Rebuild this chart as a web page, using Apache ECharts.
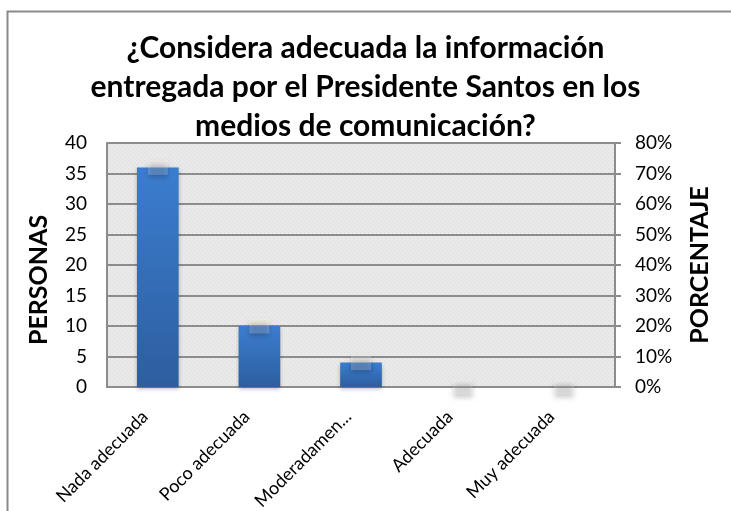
<!DOCTYPE html>
<html>
<head>
<meta charset="utf-8">
<script src="https://cdn.jsdelivr.net/npm/echarts@6/dist/echarts.min.js"></script>
<style>
  html, body { margin: 0; padding: 0; background: #fff; }
  #chart { width: 731px; height: 511px; }
</style>
</head>
<body>
<div id="chart"></div>
<script>
// categorias de respuesta
var categorias = ['Nada adecuada', 'Poco adecuada', 'Moderadamente adecuada', 'Adecuada', 'Muy adecuada'];
// numero de personas
var personas = [36, 10, 4, 0, 0];
// porcentaje de respuestas
var porcentaje = [72, 20, 8, 0, 0];

// fondo punteado del area del grafico
var trama = document.createElement('canvas');
trama.width = 4;
trama.height = 4;
var tctx = trama.getContext('2d');
tctx.fillStyle = '#e9e9e9';
tctx.fillRect(0, 0, 4, 4);
tctx.fillStyle = '#dcdcdc';
tctx.fillRect(0, 0, 1, 1);
tctx.fillRect(2, 2, 1, 1);

var myChart = echarts.init(document.getElementById('chart'));

myChart.setOption({
    animation: false,
    textStyle: { fontFamily: 'Lato, "Open Sans", sans-serif' },
    title: {
        text: '¿Considera adecuada la información\nentregada por el Presidente Santos en los\nmedios de comunicación?',
        left: 'center',
        top: 24,
        textStyle: {
            fontSize: 30,
            fontWeight: 'bold',
            lineHeight: 39,
            color: '#000'
        }
    },
    graphic: [{
        type: 'polyline',
        shape: { points: [[7.5, 511], [7.5, 11.5], [731, 11.5]] },
        style: { stroke: '#8a8a8a', lineWidth: 2, fill: null }
    }],
    grid: {
        left: 107,
        right: 116,
        top: 143,
        bottom: 124,
        outerBoundsMode: 'none',
        containLabel: false,
        show: true,
        borderWidth: 0,
        backgroundColor: { image: trama, repeat: 'repeat' }
    },
    xAxis: {
        type: 'category',
        data: categorias,
        axisTick: { show: false },
        axisLine: { lineStyle: { color: '#8c8c8c', width: 2 } },
        axisLabel: {
            rotate: 45,
            fontSize: 18,
            color: '#000',
            margin: 14,
            padding: [0, 18, 0, 0],
            width: 130,
            overflow: 'truncate',
            ellipsis: '...'
        }
    },
    yAxis: [{
        type: 'value',
        min: 0,
        max: 40,
        interval: 5,
        name: 'PERSONAS',
        nameLocation: 'middle',
        nameGap: 56,
        nameTextStyle: { fontSize: 25, fontWeight: 'bold', color: '#000', padding: [0, 30, 0, 0] },
        axisLine: { show: true, lineStyle: { color: '#8c8c8c', width: 2 } },
        axisTick: { show: false },
        axisLabel: { fontSize: 19, color: '#000', margin: 20 },
        splitLine: { lineStyle: { color: '#8c8c8c', width: 2 } }
    }, {
        type: 'value',
        min: 0,
        max: 80,
        interval: 10,
        position: 'right',
        name: 'PORCENTAJE',
        nameLocation: 'middle',
        nameGap: 72,
        nameTextStyle: { fontSize: 25, fontWeight: 'bold', color: '#000' },
        axisLine: { show: true, lineStyle: { color: '#8c8c8c', width: 2 } },
        axisTick: { show: true, length: 6, lineStyle: { color: '#8c8c8c', width: 2 } },
        axisLabel: { fontSize: 19, color: '#000', margin: 20, formatter: '{value}%' },
        splitLine: { show: false }
    }],
    series: [{
        name: 'Personas',
        type: 'bar',
        data: personas,
        barWidth: '41%',
        itemStyle: {
            color: new echarts.graphic.LinearGradient(0, 0, 0, 1, [
                { offset: 0, color: '#3b7dcf' },
                { offset: 1, color: '#2d5e9f' }
            ]),
            shadowColor: 'rgba(0,0,0,0.25)',
            shadowBlur: 4,
            shadowOffsetY: 2
        }
    }, {
        name: 'Porcentaje',
        type: 'scatter',
        yAxisIndex: 1,
        data: porcentaje,
        symbol: 'rect',
        symbolSize: [20, 15],
        z: 3,
        itemStyle: {
            color: 'rgba(255,255,255,0.25)',
            shadowColor: 'rgba(0,0,0,1)',
            shadowBlur: 5,
            shadowOffsetY: 3
        }
    }]
});
</script>
</body>
</html>
